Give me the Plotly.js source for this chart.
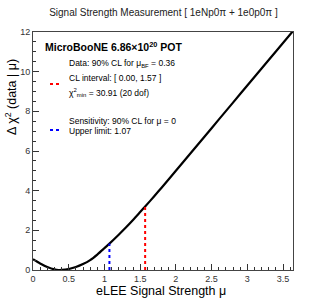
<!DOCTYPE html>
<html><head><meta charset="utf-8">
<script src="https://cdn.plot.ly/plotly-3.0.1.min.js"></script>
<style>html,body{margin:0;padding:0;background:#fff;}#chart{width:327px;height:301px;}</style>
</head><body><div id="chart"></div>
<script>
// Δχ² scan vs signal strength
const mu    = [0, 0.1, 0.2, 0.3, 0.36, 0.45, 0.5, 0.6, 0.7, 0.8, 0.9, 1.0, 1.07, 1.2, 1.3, 1.4, 1.5, 1.57, 1.7, 1.8, 2.0, 2.2, 2.4, 2.6, 2.8, 3.0, 3.2, 3.4, 3.64];
const dchi2 = [0.54, 0.33, 0.15, 0.03, 0.0, 0.02, 0.05, 0.15, 0.3, 0.5, 0.78, 1.1, 1.33, 1.78, 2.14, 2.52, 2.92, 3.2, 3.73, 4.15, 5.0, 5.86, 6.72, 7.58, 8.44, 9.3, 10.16, 11.02, 12.05];
// CL interval upper edge (red) and sensitivity upper limit (blue)
const clUpperX = [1.57, 1.57];
const clUpperY = [0, 3.2];
const sensX = [1.07, 1.07];
const sensY = [0, 1.33];
const xTicks = [0, 0.5, 1, 1.5, 2, 2.5, 3, 3.5];
const xTickText = ['0', '0.5', '1', '1.5', '2', '2.5', '3', '3.5'];
const yTicks = [0, 2, 4, 6, 8, 10, 12];
const yTickText = ['0', '2', '4', '6', '8', '10', '12'];

const F = 'Liberation Sans, Arial, Helvetica, sans-serif';
const traces = [
  {x: mu, y: dchi2, mode: 'lines', line: {color: '#000', width: 2.2, shape: 'spline', smoothing: 0.8}, hoverinfo: 'skip'},
  {x: clUpperX, y: clUpperY, mode: 'lines', line: {color: '#ff0000', width: 2, dash: 'dot'}},
  {x: sensX, y: sensY, mode: 'lines', line: {color: '#0000ff', width: 2, dash: 'dot'}}
];
const W = 260, H = 238, L = 33, T = 32;
const px = v => (v - L) / W;
const py = v => (T + H - v) / H;
const txt = (x, y, text, size, extra) => Object.assign({xref: 'paper', yref: 'paper', x: px(x), y: py(y), xanchor: 'left', yanchor: 'middle', text: text, showarrow: false, font: {family: F, size: size, color: '#000'}}, extra || {});
const layout = {
  width: 327, height: 301,
  margin: {l: L, r: 327 - L - W, t: T, b: 301 - T - H},
  paper_bgcolor: '#fff', plot_bgcolor: '#fff',
  showlegend: false,
  title: {text: 'Signal Strength Measurement [ 1eNp0π + 1e0p0π ]', x: 0.5, xanchor: 'center', y: 1 - 12 / 301, yanchor: 'middle', yref: 'container', font: {family: F, size: 10, color: '#222'}},
  xaxis: {range: [0, 3.64], tickvals: xTicks, ticktext: xTickText, ticks: 'inside', ticklen: 6, tickcolor: '#333', tickfont: {family: F, size: 9, color: '#333'},
          minor: {dtick: 0.1, ticks: 'inside', ticklen: 3, tickcolor: '#333'}, showline: true, linecolor: '#444', linewidth: 1, mirror: true, showgrid: false, zeroline: false, fixedrange: true},
  yaxis: {range: [0, 12], tickvals: yTicks, ticktext: yTickText, ticks: 'inside', ticklen: 6, tickcolor: '#333', tickfont: {family: F, size: 9, color: '#333'},
          minor: {dtick: 0.5, ticks: 'inside', ticklen: 3, tickcolor: '#333'}, showline: true, linecolor: '#444', linewidth: 1, mirror: true, showgrid: false, zeroline: false, fixedrange: true},
  annotations: [
    txt(161, 291, 'eLEE Signal Strength μ', 12.5, {xanchor: 'center'}),
    txt(11, 97, 'Δ χ<sup>2</sup> (data | μ)', 12.5, {xanchor: 'center', textangle: -90}),
    txt(43, 46, '<b>MicroBooNE 6.86×10<sup>20</sup> POT</b>', 10.5),
    txt(67, 63, 'Data: 90% CL for μ<sub>BF</sub> = 0.36', 8.5),
    txt(67, 78, 'CL interval: [ 0.00, 1.57 ]', 8.5),
    txt(67, 92, 'χ<sup>2</sup><sub>min</sub> = 30.91 (20 dof)', 8.5),
    txt(67, 121, 'Sensitivity: 90% CL for μ = 0', 8.5),
    txt(67, 131, 'Upper limit: 1.07', 8.5)
  ],
  shapes: [
    {type: 'line', xref: 'paper', yref: 'paper', x0: px(50), x1: px(61), y0: py(84), y1: py(84), line: {color: '#ff0000', width: 2, dash: 'dot'}},
    {type: 'line', xref: 'paper', yref: 'paper', x0: px(50), x1: px(61), y0: py(130), y1: py(130), line: {color: '#0000ff', width: 2, dash: 'dot'}}
  ]
};
Plotly.newPlot('chart', traces, layout, {staticPlot: true, displayModeBar: false});
</script></body></html>
